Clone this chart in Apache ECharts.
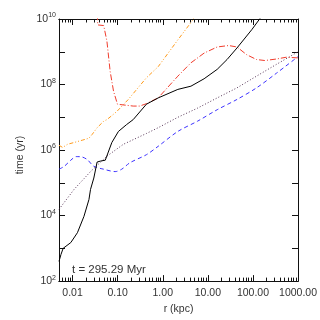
<!DOCTYPE html>
<html>
<head>
<meta charset="utf-8">
<script src="https://cdn.jsdelivr.net/npm/echarts@6/dist/echarts.min.js"></script>
<style>
  html, body { margin: 0; padding: 0; background: #fff; }
  #chart { width: 320px; height: 320px; }
</style>
</head>
<body>
<div id="chart"></div>
<script>
// r in kpc, t in yr
const blackR = [0.005, 0.00553, 0.00618, 0.00914, 0.0128, 0.0179, 0.0231, 0.025, 0.0296, 0.035, 0.0413, 0.0531, 0.0743, 0.104, 0.158, 0.221, 0.433, 0.791, 2.16, 4.22, 8.26, 16.1, 26.7, 44.2, 94, 148]
const blackT = [4.0e2, 6.5e2, 1.0e3, 1.5e3, 3.0e3, 9.5e3, 3.1e4, 6.3e4, 1.4e5, 4.3e5, 4.6e5, 4.9e5, 1.7e6, 3.7e6, 6.0e6, 8.5e6, 2.5e7, 3.9e7, 7.1e7, 8.9e7, 1.5e8, 2.9e8, 5.8e8, 1.3e9, 4.7e9, 1.1e10]

const dottedR = [0.005, 0.0108, 0.025, 0.0578, 0.134, 0.433, 0.791, 2.16, 5.9, 16.1, 44.2, 120, 330, 1000]
const dottedT = [1.55e4, 6.3e4, 2.2e5, 6.5e5, 1.5e6, 3.2e6, 4.8e6, 1.0e7, 1.9e7, 3.9e7, 7.9e7, 1.8e8, 4.1e8, 1.0e9]

const blueR = [0.005, 0.00656, 0.00914, 0.012, 0.0157, 0.0212, 0.0296, 0.049, 0.0879, 0.123, 0.187, 0.433, 0.791, 2.16, 5.9, 16.1, 44.2, 120, 330, 1000]
const blueT = [2.6e5, 3.2e5, 4.9e5, 6.3e5, 6.2e5, 5.1e5, 3.2e5, 2.6e5, 2.2e5, 2.6e5, 4.1e5, 7.2e5, 1.3e6, 3.7e6, 7.6e6, 1.7e7, 3.5e7, 7.9e7, 2.2e8, 7.1e8]

const orangeR = [0.005, 0.00603, 0.00774, 0.0108, 0.0164, 0.0231, 0.0272, 0.035, 0.049, 0.0578, 0.0957, 0.172, 0.433, 0.791, 2.16, 4.59, 5.0]
const orangeT = [1.4e6, 1.2e6, 1.5e6, 1.7e6, 2.0e6, 2.3e6, 3.0e6, 4.8e6, 7.6e6, 8.5e6, 1.5e7, 3.5e7, 1.6e8, 3.5e8, 2.3e9, 9.1e9, 1.15e10]

const redR = [0.0355, 0.0362, 0.049, 0.0578, 0.0682, 0.0811, 0.0991, 0.104, 0.221, 0.308, 0.433, 0.791, 2.16, 4.22, 8.26, 16.1, 29.0, 44.2, 73, 120, 183, 330, 546, 1000]
const redT = [1.4e10, 6.6e9, 6.3e9, 2.1e9, 2.5e8, 6.2e7, 2.5e7, 2.2e7, 2.2e7, 2.2e7, 2.6e7, 3.9e7, 1.8e8, 4.6e8, 9.1e8, 1.4e9, 1.55e9, 1.4e9, 8.1e8, 5.8e8, 5.4e8, 6.0e8, 6.8e8, 6.5e8]

const xMajor = [0.01, 0.1, 1, 10, 100, 1000]
const timeLabel = 't = 295.29 Myr'

const xMin = Math.log10(0.005)
const xMax = 3
const font = 'Liberation Sans'
const ink = '#111'

// log minor ticks (2..9 per decade) inside the range
const xMinor = []
for (let k = -3; k <= 2; k++) {
  for (let m = 2; m <= 9; m++) {
    const v = Math.log10(m * Math.pow(10, k))
    if (v > xMin && v < xMax) xMinor.push(v)
  }
}
const xMajorLog = xMajor.map(v => Math.log10(v))

function pts(r, t) {
  return r.map((v, i) => [Math.log10(v), Math.log10(t[i])])
}

function xAxis(position, ticks, len, labels) {
  return {
    type: 'value',
    position,
    min: xMin,
    max: xMax,
    axisLine: { show: true, onZero: false, lineStyle: { color: ink, width: 1 } },
    axisTick: { show: true, inside: true, length: len, customValues: ticks, lineStyle: { color: ink } },
    axisLabel: labels ? {
      show: true,
      customValues: xMajorLog,
      margin: 7,
      color: '#333',
      fontFamily: font,
      fontSize: 10.5,
      formatter: v => Math.pow(10, v).toFixed(2),
    } : { show: false },
    splitLine: { show: false },
  }
}

function yAxis(position, labels) {
  return {
    type: 'value',
    position,
    min: 2,
    max: 10,
    interval: 1,
    axisLine: { show: true, onZero: false, lineStyle: { color: ink, width: 1 } },
    axisTick: { show: true, inside: true, length: 6, lineStyle: { color: ink } },
    axisLabel: labels ? {
      show: true,
      margin: 3,
      showMinLabel: true,
      showMaxLabel: true,
      formatter: v => (v % 2 === 0 ? '{b|10}{s|' + v + '}' : ''),
      rich: {
        b: { fontFamily: font, fontSize: 10.5, color: '#333', lineHeight: 14 },
        s: { fontFamily: font, fontSize: 7, color: '#333', lineHeight: 8, verticalAlign: 'top' },
      },
    } : { show: false },
    splitLine: { show: false },
  }
}

function line(data, color, type, smooth) {
  return {
    type: 'line',
    data,
    showSymbol: false,
    smooth: smooth || false,
    clip: true,
    lineStyle: { color, width: 1, type },
  }
}

const chart = echarts.init(document.getElementById('chart'))
chart.setOption({
  animation: false,
  title: {
    text: timeLabel,
    left: 72,
    top: 264,
    padding: 0,
    textStyle: { fontFamily: font, fontSize: 11.5, fontWeight: 'normal', color: '#333' },
  },
  grid: { left: 59, top: 19, width: 243, height: 263 },
  xAxis: [
    Object.assign(xAxis('bottom', xMajorLog, 6, true), {
      name: 'r (kpc)',
      nameLocation: 'middle',
      nameGap: 18,
      nameTextStyle: { fontFamily: font, fontSize: 10.5, color: '#333' },
    }),
    xAxis('bottom', xMinor, 3.5, false),
    xAxis('top', xMajorLog, 6, false),
    xAxis('top', xMinor, 3.5, false),
  ],
  yAxis: [
    Object.assign(yAxis('left', true), {
      name: 'time (yr)',
      nameLocation: 'middle',
      nameGap: 27,
      nameRotate: 90,
      nameTextStyle: { fontFamily: font, fontSize: 10.5, color: '#333', padding: [0, 10, 0, 0] },
    }),
    yAxis('right', false),
  ],
  series: [
    line(pts(dottedR, dottedT), '#553355', [1, 2]),
    line(pts(blueR, blueT), '#3c32ff', [4, 3], 0.3),
    line(pts(orangeR, orangeT), '#ff9a1a', [4, 2, 1, 2, 1, 2]),
    line(pts(redR, redT), '#f03c2c', [6, 2, 1, 2]),
    line(pts(blackR, blackT), '#000', 'solid'),
  ],
})
</script>
</body>
</html>
